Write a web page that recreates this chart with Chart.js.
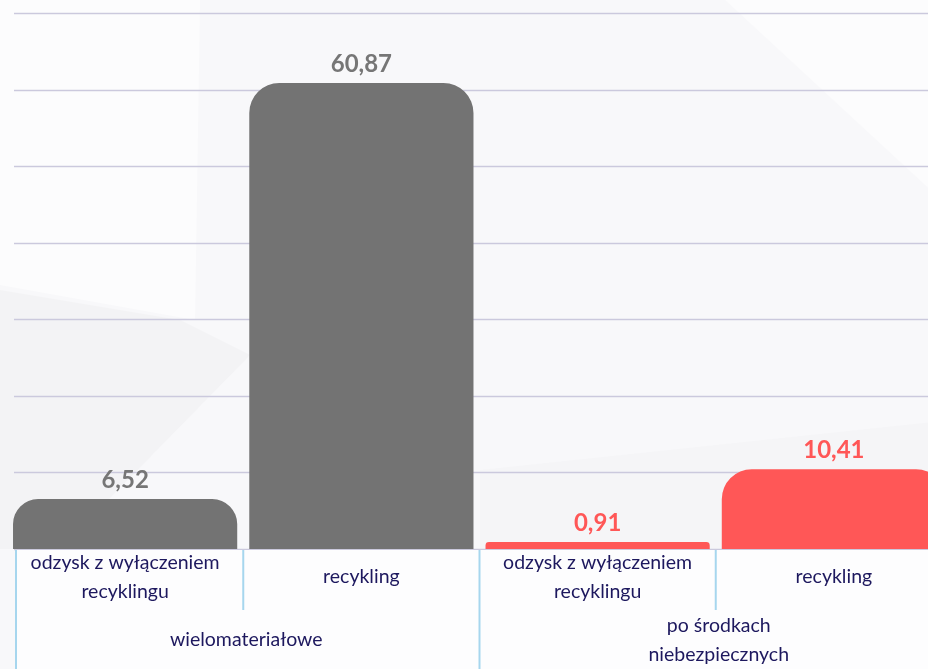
<!DOCTYPE html>
<html>
<head>
<meta charset="utf-8">
<script src="https://cdn.jsdelivr.net/npm/chart.js@4"></script>
<style>
  html, body { margin: 0; padding: 0; overflow: hidden; background: #f8f8fa; }
  #wrap { position: absolute; left: 0; top: 0; width: 952px; height: 669px; }
</style>
</head>
<body>
<div id="wrap"><canvas id="chart" width="952" height="669"></canvas></div>
<script>
// kategorie i grupy
const kategorie = [["odzysk z wyłączeniem", "recyklingu"], ["recykling"], ["odzysk z wyłączeniem", "recyklingu"], ["recykling"]];
const grupy = [["wielomateriałowe"], ["po środkach", "niebezpiecznych"]];
const wartosci = [6.52, 60.87, 0.91, 10.41];
const kolory = ["#737373", "#737373", "#ff5757", "#ff5757"];
const koloryEtykiet = ["#767676", "#767676", "#ff5757", "#ff5757"];
const osY = { min: 0, max: 70, krok: 10 };

const FONT = "Lato, 'Open Sans', sans-serif";
const TEXT = "#1d185e";
const SEP = "#a6d6ee";

// tlo z jasnymi wielokatami + linie siatki od x=14
const tlo = {
    id: "tlo",
    beforeDraw(chart) {
        const c = chart.ctx;
        c.save();
        c.fillStyle = "#f8f8fa";
        c.fillRect(0, 0, chart.width, chart.height);
        c.fillStyle = "#fcfcfd";
        c.beginPath();
        c.moveTo(0, 0); c.lineTo(200, 0); c.lineTo(195, 320); c.lineTo(0, 285); c.closePath();
        c.fill();
        c.beginPath();
        c.moveTo(725, 0); c.lineTo(952, 0); c.lineTo(952, 210); c.closePath();
        c.fill();
        c.fillStyle = "#f3f3f5";
        c.beginPath();
        c.moveTo(0, 290); c.lineTo(180, 320); c.lineTo(250, 355); c.lineTo(60, 549); c.lineTo(0, 549); c.closePath();
        c.fill();
        c.fillStyle = "#f5f5f7";
        c.beginPath();
        c.moveTo(480, 470); c.lineTo(952, 420); c.lineTo(952, 549); c.lineTo(480, 549); c.closePath();
        c.fill();
        c.restore();
    },
    beforeDatasetsDraw(chart) {
        const c = chart.ctx;
        const y = chart.scales.y;
        c.save();
        c.strokeStyle = "#cbc9dd";
        c.lineWidth = 1.3;
        y.ticks.forEach(t => {
            const py = Math.round(y.getPixelForValue(t.value)) + 0.5;
            c.beginPath(); c.moveTo(14, py); c.lineTo(chart.width, py); c.stroke();
        });
        c.restore();
    }
};

// etykiety wartosci nad slupkami
const etykiety = {
    id: "etykiety",
    afterDatasetsDraw(chart) {
        const c = chart.ctx;
        const meta = chart.getDatasetMeta(0);
        c.save();
        c.font = "bold 24px " + FONT;
        c.textAlign = "center";
        c.textBaseline = "bottom";
        meta.data.forEach((bar, i) => {
            c.fillStyle = koloryEtykiet[i];
            c.fillText(wartosci[i].toFixed(2).replace(".", ","), bar.x, bar.y - 7);
        });
        c.restore();
    }
};

// dwupoziomowa os kategorii
const osKategorii = {
    id: "osKategorii",
    afterDraw(chart) {
        const c = chart.ctx;
        const x = chart.scales.x;
        const y0 = chart.chartArea.bottom;
        const pos = kategorie.map((_, i) => x.getPixelForValue(i));
        c.save();
        c.fillStyle = "#fdfdfe";
        c.fillRect(16, y0 + 1, chart.width - 16, chart.height - y0);
        // separatory
        c.strokeStyle = SEP;
        c.lineWidth = 2;
        const linia = (xx, y1) => { c.beginPath(); c.moveTo(xx, y0 + 1); c.lineTo(xx, y1); c.stroke(); };
        linia(16, chart.height);
        linia((pos[0] + pos[1]) / 2, y0 + 61);
        linia((pos[1] + pos[2]) / 2, chart.height);
        linia((pos[2] + pos[3]) / 2, y0 + 61);
        // teksty
        c.fillStyle = TEXT;
        c.font = "19.5px " + FONT;
        c.textAlign = "center";
        c.textBaseline = "middle";
        kategorie.forEach((linie, i) => {
            const start = y0 + 28 - (linie.length - 1) * 14.5;
            linie.forEach((t, j) => c.fillText(t, pos[i], start + j * 29));
        });
        grupy.forEach((linie, g) => {
            const cx = (pos[g * 2] + pos[g * 2 + 1]) / 2 + 3;
            const start = y0 + 91 - (linie.length - 1) * 14.5;
            linie.forEach((t, j) => c.fillText(t, cx, start + j * 29));
        });
        c.restore();
    }
};

new Chart(document.getElementById("chart").getContext("2d"), {
    type: "bar",
    data: {
        labels: kategorie.map(k => k.join(" ")),
        datasets: [{
            data: wartosci,
            backgroundColor: kolory,
            borderRadius: { topLeft: 30, topRight: 30, bottomLeft: 0, bottomRight: 0 },
            borderSkipped: "bottom",
            barPercentage: 0.949,
            categoryPercentage: 1
        }]
    },
    options: {
        responsive: false,
        animation: false,
        layout: { padding: { top: 13, bottom: 120, left: 7, right: 0 } },
        plugins: { legend: { display: false }, tooltip: { enabled: false } },
        scales: {
            x: { display: false },
            y: {
                min: osY.min, max: osY.max,
                ticks: { display: false, stepSize: osY.krok },
                grid: { display: false },
                border: { display: false },
                afterFit: s => { s.width = 0; }
            }
        }
    },
    plugins: [tlo, etykiety, osKategorii]
});
</script>
</body>
</html>
